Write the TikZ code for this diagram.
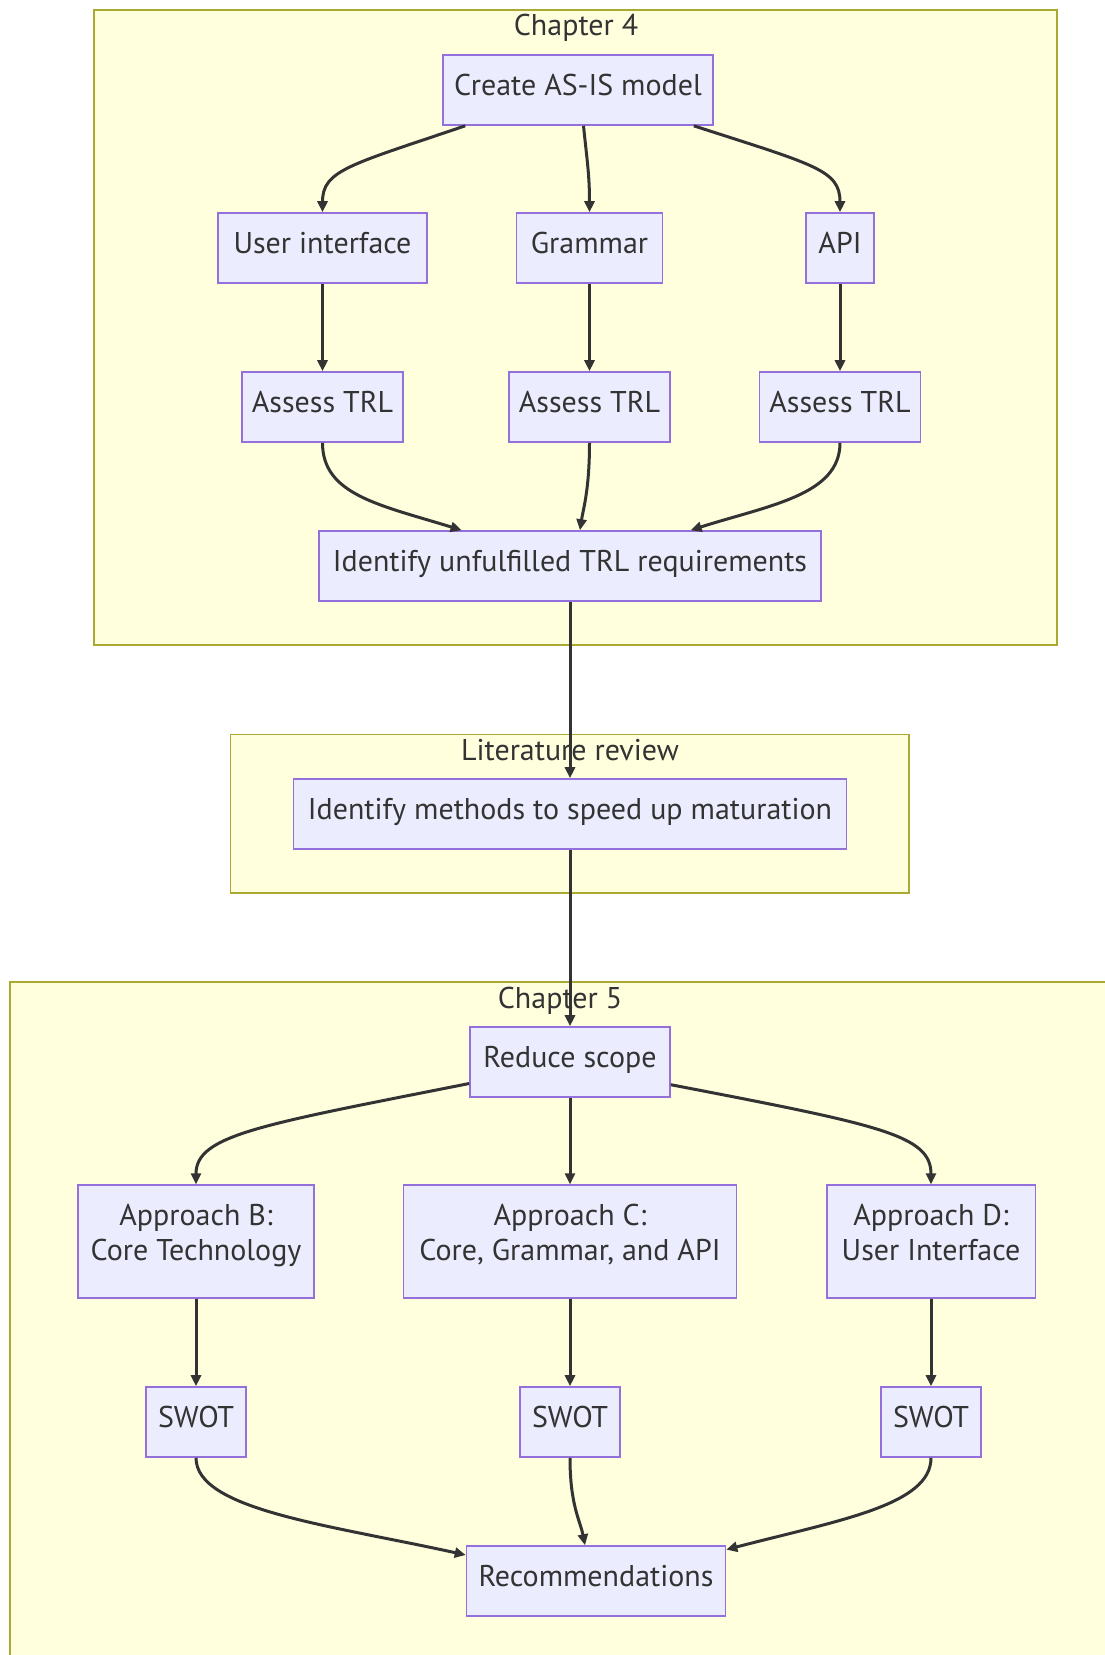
\documentclass[tikz,border=0pt]{standalone}
\usepackage{fontspec}
\setmainfont{PT Sans}
\usetikzlibrary{arrows.meta,calc}
\definecolor{nodefill}{HTML}{ECECFF}
\definecolor{nodeline}{HTML}{9370DB}
\definecolor{clusterfill}{HTML}{FFFFDE}
\definecolor{clusterline}{HTML}{AAAA33}
\definecolor{ink}{HTML}{333333}
% two centred lines, baseline on the last line
\newcommand\twolines[2]{\vbox{\baselineskip=35pt\halign{\hfil##\hfil\cr#1\cr#2\cr}}}

\begin{document}
\begin{tikzpicture}[x=1pt,y=-1pt,
  box/.style={draw=nodeline,fill=nodefill,line width=1.6pt,inner sep=0pt,
    minimum height=70pt,text=ink,font=\fontsize{30}{35}\selectfont,
    text height=20pt,text depth=10pt},
  tall/.style={box,minimum height=113pt,text height=50pt,text depth=13pt},
  cluster/.style={draw=clusterline,fill=clusterfill,line width=1.6pt,inner sep=0pt},
  title/.style={text=ink,font=\fontsize{30}{35}\selectfont,inner sep=0pt,anchor=base},
  flow/.style={draw=ink,line width=3pt,-{Triangle[length=11pt,width=10pt]}}
]
\useasboundingbox (0,0) rectangle (1105,1655);
\clip (0,0) rectangle (1105,1655);

% groups
\node[cluster,minimum width=963.3pt,minimum height=635pt] (ch4) at (575.35,327.5) {};
\node[cluster,minimum width=678.5pt,minimum height=158.4pt] (lit) at (569.75,813.8) {};
\node[cluster,minimum width=1100pt,minimum height=700pt] (ch5) at (560,1332) {};
\node[title] (ch4t) at (576,35.5) {Chapter 4};
\node[title] (litt) at (570,760) {Literature review};
\node[title] (ch5t) at (560,1008) {Chapter 5};

% Chapter 4
\node[box,minimum width=270pt] (create) at (578,90) {Create AS-IS model};
\node[box,minimum width=209pt] (ui) at (322.5,248) {User interface};
\node[box,minimum width=146pt] (gram) at (589.5,248) {Grammar};
\node[box,minimum width=68pt] (api) at (840,248) {API};
\node[box,minimum width=161pt] (a1) at (322.5,407) {Assess TRL};
\node[box,minimum width=161pt] (a2) at (589.5,407) {Assess TRL};
\node[box,minimum width=161pt] (a3) at (840,407) {Assess TRL};
\node[box,minimum width=502pt] (unf) at (570,566) {Identify unfulfilled TRL requirements};

% Literature review
\node[box,minimum width=553pt] (meth) at (570,814) {Identify methods to speed up maturation};

% Chapter 5
\node[box,minimum width=200pt] (red) at (570,1062) {Reduce scope};
\node[tall,minimum width=235.6pt] (appB) at (196,1241.6) {\twolines{Approach B:}{Core Technology}};
\node[tall,minimum width=333pt] (appC) at (570,1241.6) {\twolines{Approach C:}{Core, Grammar, and API}};
\node[tall,minimum width=208.6pt] (appD) at (931,1241.6) {\twolines{Approach D:}{User Interface}};
\node[box,minimum width=100pt] (sB) at (196,1422) {SWOT};
\node[box,minimum width=100pt] (sC) at (570,1422) {SWOT};
\node[box,minimum width=100pt] (sD) at (931,1422) {SWOT};
\node[box,minimum width=259pt] (rec) at (596,1581) {Recommendations};

% connectors
\draw[flow] ([xshift=23pt]create.south west) .. controls (350,165) and (322.5,170) .. (ui.north);
\draw[flow] ([xshift=5.5pt]create.south) .. controls (587,160) and (589.5,175) .. (gram.north);
\draw[flow] ([xshift=-20pt]create.south east) .. controls (815,165) and (840,170) .. (api.north);
\draw[flow] (ui) -- (a1);
\draw[flow] (gram) -- (a2);
\draw[flow] (api) -- (a3);
\draw[flow] (a1.south) .. controls (322.5,495) and (380,505) .. ([xshift=-108.4pt]unf.north);
\draw[flow] (a2.south) .. controls (589.5,490) and (583,510) .. ([xshift=10pt]unf.north);
\draw[flow] (a3.south) .. controls (840,495) and (770,505) .. ([xshift=120.6pt]unf.north);
\draw[flow] (unf) -- (meth);
\draw[flow] (meth) -- (red);
\draw[flow] ([yshift=-21.5pt]red.west) .. controls (260,1125) and (196,1135) .. (appB.north);
\draw[flow] (red) -- (appC);
\draw[flow] ([yshift=-22.7pt]red.east) .. controls (880,1125) and (931,1135) .. (appD.north);
\draw[flow] (appB) -- (sB);
\draw[flow] (appC) -- (sC);
\draw[flow] (appD) -- (sD);
\draw[flow] (sB.south) .. controls (196,1510) and (330,1525) .. ([yshift=26pt]rec.west);
\draw[flow] (sC.south) .. controls (570,1505) and (580,1520) .. ([xshift=-11pt]rec.north);
\draw[flow] (sD.south) .. controls (931,1505) and (840,1520) .. ([yshift=31.4pt]rec.east);
\end{tikzpicture}
\end{document}
